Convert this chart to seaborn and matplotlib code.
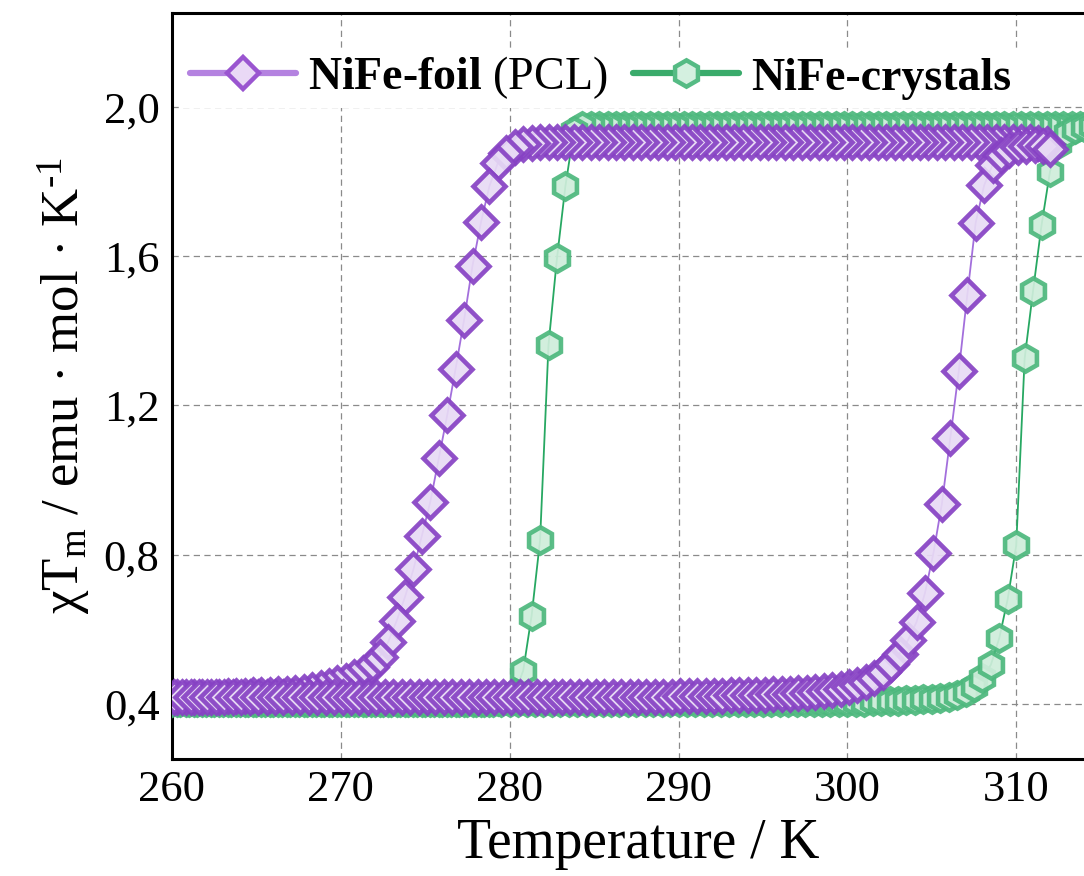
"""
Magnetic susceptibility hysteresis (chiT vs T) of NiFe foil vs NiFe crystals.
"""

import matplotlib
matplotlib.use('Agg')
import matplotlib.pyplot as plt
import seaborn as sns
from matplotlib.lines import Line2D
from matplotlib.ticker import MultipleLocator, FuncFormatter

# ---------------- data ----------------
FOIL_HEAT_T = [
    259.6, 260.1, 260.6, 261.1, 261.6, 262.1, 262.6, 263.1, 263.6, 264.1,
    264.6, 265.1, 265.6, 266.1, 266.6, 267.1, 267.6, 268.1, 268.6, 269.1,
    269.6, 270.1, 270.6, 271.1, 271.6, 272.1, 272.6, 273.1, 273.6, 274.1,
    274.6, 275.1, 275.6, 276.1, 276.6, 277.1, 277.6, 278.1, 278.6, 279.1,
    279.6, 280.1, 280.6, 281.1, 281.6, 282.1, 282.6, 283.1, 283.6, 284.1,
    284.6, 285.1, 285.6, 286.1, 286.6, 287.1, 287.6, 288.1, 288.6, 289.1,
    289.6, 290.1, 290.6, 291.1, 291.6, 292.1, 292.6, 293.1, 293.6, 294.1,
    294.6, 295.1, 295.6, 296.1, 296.6, 297.1, 297.6, 298.1, 298.6, 299.1,
    299.6, 300.1, 300.6, 301.1, 301.6, 302.1, 302.6, 303.1, 303.6, 304.1,
    304.6, 305.1, 305.6, 306.1, 306.6, 307.1, 307.6, 308.1, 308.6, 309.1,
    309.6, 310.1, 310.6, 311.1, 311.6, 312.0,
]
FOIL_HEAT_CHI = [
    0.420, 0.420, 0.420, 0.420, 0.420, 0.420, 0.420, 0.420, 0.420, 0.420,
    0.420, 0.420, 0.420, 0.420, 0.420, 0.420, 0.420, 0.420, 0.420, 0.420,
    0.420, 0.420, 0.420, 0.420, 0.420, 0.420, 0.420, 0.420, 0.420, 0.420,
    0.420, 0.420, 0.420, 0.420, 0.420, 0.420, 0.420, 0.420, 0.420, 0.420,
    0.420, 0.420, 0.420, 0.420, 0.420, 0.420, 0.420, 0.420, 0.420, 0.420,
    0.420, 0.420, 0.420, 0.420, 0.420, 0.420, 0.420, 0.420, 0.420, 0.420,
    0.420, 0.421, 0.421, 0.421, 0.422, 0.422, 0.422, 0.423, 0.423, 0.424,
    0.424, 0.425, 0.426, 0.427, 0.428, 0.429, 0.430, 0.432, 0.434, 0.437,
    0.441, 0.446, 0.452, 0.460, 0.470, 0.487, 0.508, 0.535, 0.572, 0.620,
    0.698, 0.805, 0.937, 1.114, 1.293, 1.495, 1.690, 1.790, 1.845, 1.872,
    1.885, 1.892, 1.896, 1.898, 1.895, 1.887,
]

FOIL_COOL_T = [
    311.8, 311.3, 310.8, 310.3, 309.8, 309.3, 308.8, 308.3, 307.8, 307.3,
    306.8, 306.3, 305.8, 305.3, 304.8, 304.3, 303.8, 303.3, 302.8, 302.3,
    301.8, 301.3, 300.8, 300.3, 299.8, 299.3, 298.8, 298.3, 297.8, 297.3,
    296.8, 296.3, 295.8, 295.3, 294.8, 294.3, 293.8, 293.3, 292.8, 292.3,
    291.8, 291.3, 290.8, 290.3, 289.8, 289.3, 288.8, 288.3, 287.8, 287.3,
    286.8, 286.3, 285.8, 285.3, 284.8, 284.3, 283.8, 283.3, 282.8, 282.3,
    281.8, 281.3, 280.8, 280.3, 279.8, 279.3, 278.8, 278.3, 277.8, 277.3,
    276.8, 276.3, 275.8, 275.3, 274.8, 274.3, 273.8, 273.3, 272.8, 272.3,
    271.8, 271.3, 270.8, 270.3, 269.8, 269.3, 268.8, 268.3, 267.8, 267.3,
    266.8, 266.3, 265.8, 265.3, 264.8, 264.3, 263.8, 263.3, 262.8, 262.3,
    261.8, 261.3, 260.8, 260.3, 259.8, 259.3,
]
FOIL_COOL_CHI = [
    1.900, 1.903, 1.905, 1.905, 1.905, 1.905, 1.905, 1.905, 1.905, 1.905,
    1.905, 1.905, 1.905, 1.905, 1.905, 1.905, 1.905, 1.905, 1.905, 1.905,
    1.905, 1.905, 1.905, 1.905, 1.905, 1.905, 1.905, 1.905, 1.905, 1.905,
    1.905, 1.905, 1.905, 1.905, 1.905, 1.905, 1.905, 1.905, 1.905, 1.905,
    1.905, 1.905, 1.905, 1.905, 1.905, 1.905, 1.905, 1.905, 1.905, 1.905,
    1.905, 1.905, 1.905, 1.905, 1.905, 1.905, 1.905, 1.905, 1.905, 1.905,
    1.905, 1.903, 1.900, 1.893, 1.876, 1.850, 1.788, 1.691, 1.575, 1.430,
    1.299, 1.174, 1.058, 0.942, 0.851, 0.761, 0.687, 0.622, 0.566, 0.526,
    0.500, 0.484, 0.471, 0.462, 0.455, 0.448, 0.442, 0.437, 0.433, 0.430,
    0.428, 0.426, 0.425, 0.424, 0.423, 0.422, 0.421, 0.421, 0.420, 0.420,
    0.420, 0.420, 0.420, 0.420, 0.420, 0.420,
]

CRYST_HEAT_T = [
    259.5, 260.0, 260.5, 261.0, 261.5, 262.0, 262.5, 263.0, 263.5, 264.0,
    264.5, 265.0, 265.5, 266.0, 266.5, 267.0, 267.5, 268.0, 268.5, 269.0,
    269.5, 270.0, 270.5, 271.0, 271.5, 272.0, 272.5, 273.0, 273.5, 274.0,
    274.5, 275.0, 275.5, 276.0, 276.5, 277.0, 277.5, 278.0, 278.5, 279.0,
    279.5, 280.0, 280.5, 281.0, 281.5, 282.0, 282.5, 283.0, 283.5, 284.0,
    284.5, 285.0, 285.5, 286.0, 286.5, 287.0, 287.5, 288.0, 288.5, 289.0,
    289.5, 290.0, 290.5, 291.0, 291.5, 292.0, 292.5, 293.0, 293.5, 294.0,
    294.5, 295.0, 295.5, 296.0, 296.5, 297.0, 297.5, 298.0, 298.5, 299.0,
    299.5, 300.0, 300.5, 301.0, 301.5, 302.0, 302.5, 303.0, 303.5, 304.0,
    304.5, 305.0, 305.5, 306.0, 306.5, 307.0, 307.5, 308.0, 308.5, 309.0,
    309.5, 310.0, 310.5, 311.0, 311.5, 312.0, 312.5, 313.0, 313.5, 314.0,
    314.5, 315.0, 315.5,
]
CRYST_HEAT_CHI = [
    0.405, 0.405, 0.405, 0.405, 0.405, 0.405, 0.405, 0.405, 0.405, 0.405,
    0.405, 0.405, 0.405, 0.405, 0.405, 0.405, 0.405, 0.405, 0.405, 0.405,
    0.405, 0.405, 0.405, 0.405, 0.405, 0.405, 0.405, 0.405, 0.405, 0.405,
    0.405, 0.405, 0.405, 0.405, 0.405, 0.405, 0.405, 0.405, 0.405, 0.405,
    0.405, 0.405, 0.405, 0.405, 0.405, 0.405, 0.405, 0.405, 0.405, 0.405,
    0.405, 0.405, 0.405, 0.405, 0.405, 0.405, 0.405, 0.405, 0.405, 0.405,
    0.405, 0.405, 0.405, 0.405, 0.405, 0.405, 0.405, 0.405, 0.405, 0.405,
    0.405, 0.405, 0.405, 0.405, 0.405, 0.405, 0.405, 0.405, 0.405, 0.405,
    0.405, 0.405, 0.406, 0.406, 0.407, 0.407, 0.408, 0.409, 0.410, 0.411,
    0.412, 0.414, 0.416, 0.419, 0.424, 0.433, 0.446, 0.469, 0.505, 0.577,
    0.682, 0.825, 1.326, 1.508, 1.683, 1.827, 1.900, 1.930, 1.942, 1.947,
    1.950, 1.950, 1.950,
]

CRYST_COOL_T = [
    315.8, 315.3, 314.8, 314.3, 313.8, 313.3, 312.8, 312.3, 311.8, 311.3,
    310.8, 310.3, 309.8, 309.3, 308.8, 308.3, 307.8, 307.3, 306.8, 306.3,
    305.8, 305.3, 304.8, 304.3, 303.8, 303.3, 302.8, 302.3, 301.8, 301.3,
    300.8, 300.3, 299.8, 299.3, 298.8, 298.3, 297.8, 297.3, 296.8, 296.3,
    295.8, 295.3, 294.8, 294.3, 293.8, 293.3, 292.8, 292.3, 291.8, 291.3,
    290.8, 290.3, 289.8, 289.3, 288.8, 288.3, 287.8, 287.3, 286.8, 286.3,
    285.8, 285.3, 284.8, 284.3, 283.8, 283.3, 282.8, 282.3, 281.8, 281.3,
    280.8, 280.3, 279.8, 279.3, 278.8, 278.3, 277.8, 277.3, 276.8, 276.3,
    275.8, 275.3, 274.8, 274.3, 273.8, 273.3, 272.8, 272.3, 271.8, 271.3,
    270.8, 270.3, 269.8, 269.3, 268.8, 268.3, 267.8, 267.3, 266.8, 266.3,
    265.8, 265.3, 264.8, 264.3, 263.8, 263.3, 262.8, 262.3, 261.8, 261.3,
    260.8, 260.3, 259.8, 259.3,
]
CRYST_COOL_CHI = [
    1.950, 1.950, 1.950, 1.950, 1.950, 1.950, 1.950, 1.950, 1.950, 1.950,
    1.950, 1.950, 1.950, 1.950, 1.950, 1.950, 1.950, 1.950, 1.950, 1.950,
    1.950, 1.950, 1.950, 1.950, 1.950, 1.950, 1.950, 1.950, 1.950, 1.950,
    1.950, 1.950, 1.950, 1.950, 1.950, 1.950, 1.950, 1.950, 1.950, 1.950,
    1.950, 1.950, 1.950, 1.950, 1.950, 1.950, 1.950, 1.950, 1.950, 1.950,
    1.950, 1.950, 1.950, 1.950, 1.950, 1.950, 1.950, 1.950, 1.950, 1.950,
    1.950, 1.950, 1.950, 1.948, 1.935, 1.788, 1.594, 1.363, 0.839, 0.637,
    0.489, 0.430, 0.412, 0.407, 0.405, 0.405, 0.405, 0.405, 0.405, 0.405,
    0.405, 0.405, 0.405, 0.405, 0.405, 0.405, 0.405, 0.405, 0.405, 0.405,
    0.405, 0.405, 0.405, 0.405, 0.405, 0.405, 0.405, 0.405, 0.405, 0.405,
    0.405, 0.405, 0.405, 0.405, 0.405, 0.405, 0.405, 0.405, 0.405, 0.405,
    0.405, 0.405, 0.405, 0.405,
]

LABEL_FOIL = r"NiFe-foil $\mathrm{(PCL)}$"
LABEL_CRYST = "NiFe-crystals"
X_LABEL = "Temperature / K"
Y_LABEL = "χT$_{\\mathrm{m}}$ / emu · mol · K$^{\\mathrm{\u20101}}$"

# ---------------- styles ----------------
PURPLE_STYLE = dict(color='#a36fdc', linewidth=1.3, marker='D', markersize=16,
                    markeredgewidth=3.3, markeredgecolor=(0.53, 0.26, 0.77, 0.92),
                    markerfacecolor=(0.91, 0.86, 0.96, 0.92))
GREEN_STYLE = dict(color='#27a862', linewidth=1.3, marker='h', markersize=19,
                   markeredgewidth=3.3, markeredgecolor=(0.30, 0.72, 0.49, 0.92),
                   markerfacecolor=(0.81, 0.93, 0.86, 0.92))


def draw_branch(ax, temps, chi, style, z):
    sns.lineplot(x=temps, y=chi, ax=ax, sort=False, estimator=None,
                 zorder=z, clip_on=True, **style)


def main():
    sns.set_theme(style='white')
    plt.rcParams['font.family'] = ['Liberation Serif', 'DejaVu Serif']
    plt.rcParams['mathtext.fontset'] = 'custom'
    plt.rcParams['mathtext.rm'] = 'Liberation Serif'
    plt.rcParams['mathtext.it'] = 'Liberation Serif:italic'
    plt.rcParams['mathtext.bf'] = 'Liberation Serif:bold'
    plt.rcParams['text.color'] = 'black'
    plt.rcParams['axes.labelcolor'] = 'black'

    fig = plt.figure(figsize=(10.84, 8.76), dpi=100)
    ax = fig.add_axes([172 / 1084, 117 / 876, 932 / 1084, 746 / 876])

    # green first, purple on top (as in the reference)
    draw_branch(ax, CRYST_COOL_T, CRYST_COOL_CHI, GREEN_STYLE, 3)
    draw_branch(ax, CRYST_HEAT_T, CRYST_HEAT_CHI, GREEN_STYLE, 3.1)
    draw_branch(ax, FOIL_COOL_T, FOIL_COOL_CHI, PURPLE_STYLE, 3.2)
    draw_branch(ax, FOIL_HEAT_T, FOIL_HEAT_CHI, PURPLE_STYLE, 3.3)

    ax.set_xlim(260, 315.2)
    ax.set_ylim(0.2525, 2.252)

    ax.xaxis.set_major_locator(MultipleLocator(10))
    ax.xaxis.set_minor_locator(MultipleLocator(5))
    ax.yaxis.set_major_locator(MultipleLocator(0.4))
    ax.yaxis.set_minor_locator(MultipleLocator(0.2))
    ax.yaxis.set_major_formatter(FuncFormatter(lambda v, p: f"{v:.1f}".replace('.', ',')))

    ax.grid(True, which='major', color='#8a8a8a', linestyle=(0, (5, 3.5)), linewidth=0.9)
    ax.set_axisbelow(True)

    ax.tick_params(axis='both', which='both', direction='in', width=1.5,
                   labelsize=32, colors='black')
    ax.tick_params(axis='x', which='major', length=12, pad=8)
    ax.tick_params(axis='x', which='minor', length=6.5)
    ax.tick_params(axis='y', which='both', length=8, pad=9)
    ax.tick_params(top=False, right=False, which='both')

    for side in ('left', 'bottom', 'top'):
        ax.spines[side].set_visible(True)
        ax.spines[side].set_color('black')
        ax.spines[side].set_linewidth(2.2)
    ax.spines['right'].set_visible(False)

    ax.set_xlabel(X_LABEL, fontsize=40, labelpad=6, color='black')
    ax.set_ylabel(Y_LABEL, fontsize=38, labelpad=8, color='black')

    handles = [
        Line2D([], [], color='#b482e0', lw=4.5, marker='D', markersize=16,
               markeredgewidth=3.2, markeredgecolor='#9a55d0', markerfacecolor='#ead9f6'),
        Line2D([], [], color='#3aab6b', lw=4.5, marker='h', markersize=19,
               markeredgewidth=3.2, markeredgecolor='#55bb84', markerfacecolor='#d4f0e0'),
    ]
    leg = ax.legend(handles, [LABEL_FOIL, LABEL_CRYST], ncol=2, loc='center left',
                    bbox_to_anchor=(0.012, (759 - 78) / 746), borderaxespad=0,
                    prop={'family': 'Liberation Serif', 'weight': 'bold', 'size': 33},
                    frameon=True, fancybox=False, framealpha=1, facecolor='white',
                    edgecolor='none', borderpad=0.15, handlelength=2.31,
                    handletextpad=0.26, columnspacing=0.57, numpoints=1)
    for txt in leg.get_texts():
        txt.set_color('black')
    leg.set_zorder(10)

    plt.savefig('out.png', dpi=100)
    plt.close()


if __name__ == "__main__":
    main()
